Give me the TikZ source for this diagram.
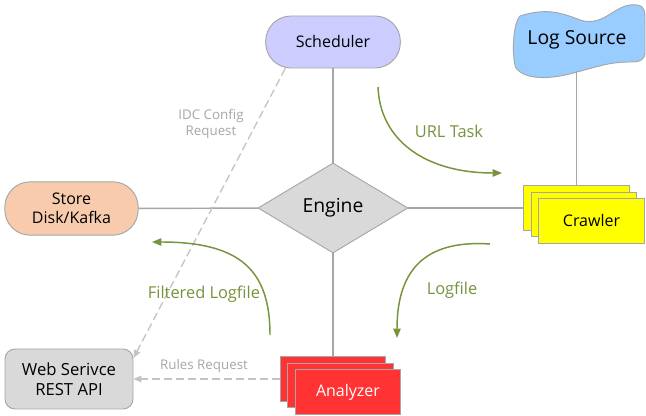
\documentclass[tikz,border=0pt]{standalone}
\usepackage{fontspec}
\setmainfont{Open Sans}
\usepackage{tikz}
\usetikzlibrary{shapes.geometric,arrows.meta}
\definecolor{schedfill}{HTML}{CCCCFF}
\definecolor{storefill}{HTML}{F8CBAD}
\definecolor{logfill}{HTML}{99CCFF}
\definecolor{enginefill}{HTML}{D9D9D9}
\definecolor{crawlfill}{HTML}{FFFF00}
\definecolor{analyzefill}{HTML}{FF3333}
\definecolor{flow}{HTML}{77933C}
\definecolor{linegray}{HTML}{A6A6A6}
\definecolor{reqgray}{HTML}{C4C4C4}

\begin{document}
\begin{tikzpicture}[x=0.75pt,y=-0.75pt,
  box/.style={draw=linegray,line width=0.7pt,inner sep=0pt,align=center,
    font=\fontsize{12}{14.5}\selectfont},
  pill/.style={box,rounded corners=19pt,minimum width=101pt,minimum height=39pt},
  stackbox/.style={box,minimum width=79pt,minimum height=33.5pt},
  link/.style={draw=linegray,line width=1.1pt},
  reqlink/.style={draw=reqgray,line width=1pt,dash pattern=on 6pt off 3pt,
    -{Triangle[length=6pt,width=5pt]}},
  flowarrow/.style={draw=flow,line width=1.1pt,-{Triangle[length=7pt,width=5.5pt]}},
  flowlabel/.style={text=flow,font=\fontsize{12.3}{15}\selectfont},
  reqlabel/.style={text=reqgray!85!black,align=center,font=\fontsize{10}{12.5}\selectfont}]
  \path[use as bounding box,fill=white] (0,0) rectangle (646,416);

  % log source
  \filldraw[fill=logfill,draw=linegray,line width=0.7pt]
    (520,16) .. controls (545,8) and (560,12) .. (580,20)
    .. controls (605,28) and (615,2) .. (637,5)
    .. controls (645,6) and (645,12) .. (645,20) -- (645,52)
    .. controls (645,60) and (640,62) .. (630,62)
    .. controls (610,62) and (600,66) .. (577,72)
    .. controls (550,80) and (525,80) .. (516,68)
    .. controls (512,60) and (512,25) .. (520,16) -- cycle;
  \node[font=\fontsize{14.5}{17}\selectfont,minimum height=46.5pt] (logsrc) at (577,40) {Log Source};

  \node[pill,fill=schedfill] (sched) at (333,42) {Scheduler};
  \node[pill,fill=storefill,minimum width=100pt,minimum height=40pt] (store) at (71.5,208.5) {Store\\Disk/Kafka};
  \node[box,fill=enginefill,rounded corners=7.5pt,minimum width=96pt,minimum height=45pt,
    font=\fontsize{12.5}{15}\selectfont] (web) at (69,379) {Web Serivce\\REST API};
  \node[box,diamond,fill=enginefill,minimum width=112.5pt,minimum height=67.5pt,
    font=\fontsize{14.5}{17}\selectfont] (engine) at (333,208) {Engine};

  \foreach \i in {0,1}
    \node[stackbox,fill=crawlfill] (crawler\i) at (576.5+7.5*\i,208+6.5*\i) {};
  \node[stackbox,fill=crawlfill] (crawler) at (591.5,221) {Crawler};
  \foreach \i in {0,1}
    \node[stackbox,fill=analyzefill] (analyzer\i) at (333+7.5*\i,379+6.5*\i) {};
  \node[stackbox,fill=analyzefill,text=white] (analyzer) at (348,392) {Analyzer};

  \draw[link] (sched) -- (engine);
  \draw[link] (engine) -- (store);
  \draw[link] (engine) -- (crawler0);
  \draw[link] (engine) -- (analyzer0);
  \draw[link] (crawler0.north |- logsrc.south) -- (crawler0.north);

  \draw[reqlink] (sched.209) -- (web.18);
  \draw[reqlink] (analyzer0) -- (web);
  \node[reqlabel] (idclbl) at (211,124) {IDC Config\\Request};
  \node[reqlabel] (ruleslbl) at (204,366) {Rules Request};

  \coordinate (urlA) at (378,87);
  \coordinate (urlB) at (502,173);
  \coordinate (logA) at (490,244);
  \coordinate (logB) at (397,338);
  \coordinate (filtA) at (270,335);
  \coordinate (filtB) at (152,242);
  \draw[flowarrow] (urlA) .. controls (380,140) and (425,173) .. (urlB);
  \draw[flowarrow] (logA) .. controls (430,240) and (397,265) .. (logB);
  \draw[flowarrow] (filtA) .. controls (270,270) and (240,242) .. (filtB);
  \node[flowlabel] (urllbl) at (449,131) {URL Task};
  \node[flowlabel] (loglbl) at (452,290) {Logfile};
  \node[flowlabel] (filtlbl) at (204,294) {Filtered Logfile};
\end{tikzpicture}
\end{document}
